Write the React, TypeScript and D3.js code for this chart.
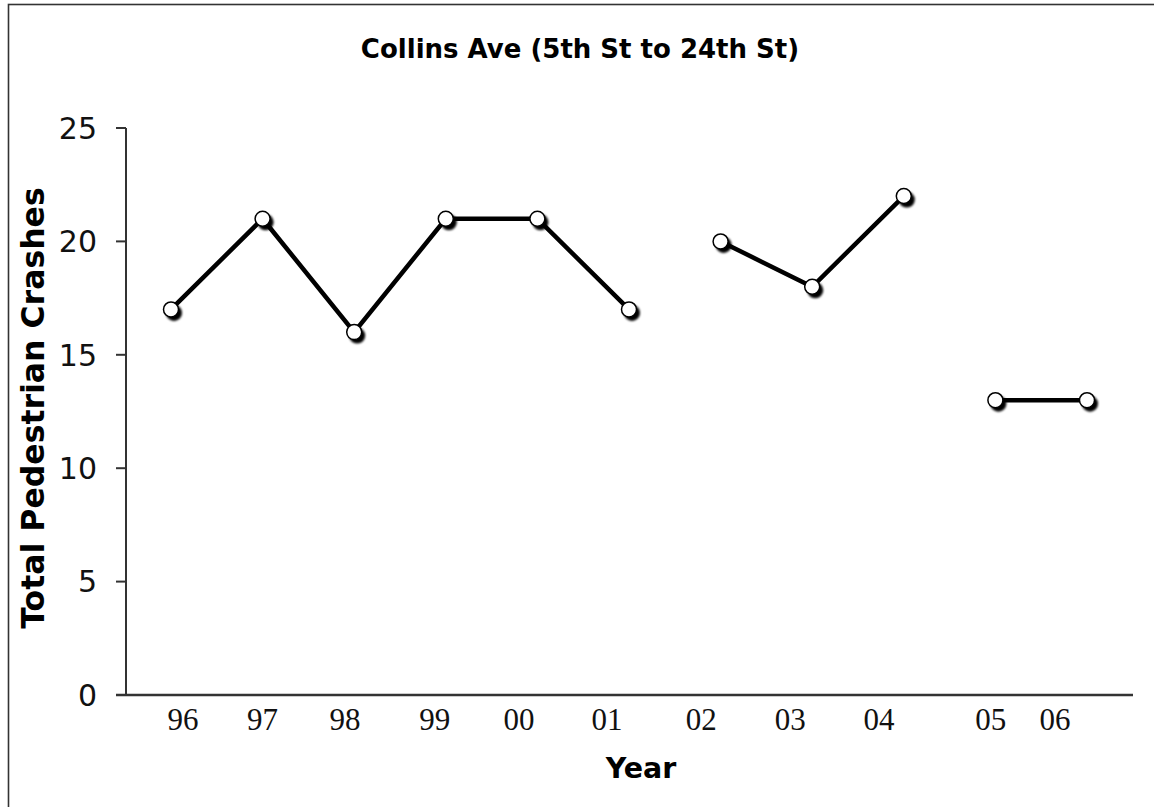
import React from "react";
import * as d3 from "d3";

const years = ["96", "97", "98", "99", "00", "01", "02", "03", "04", "05", "06"];
const crashes = [17, 21, 16, 21, 21, 17, 20, 18, 22, 13, 13];
// segment groups (indices connected by lines)
const segments = [
  [0, 1, 2, 3, 4, 5],
  [6, 7, 8],
  [9, 10],
];
// tick label positions in index units
const labelAt = [0.13, 1.0, 1.9, 2.88, 3.8, 4.76, 5.79, 6.76, 7.73, 8.95, 9.65];
const yTicks = [0, 5, 10, 15, 20, 25];

const W = 1154;
const H = 807;

export default function App() {
  const x = d3.scaleLinear().domain([0, 10]).range([171, 1087]);
  const y = d3.scaleLinear().domain([0, 25]).range([695, 128]);
  const line = d3
    .line<number>()
    .x((i) => x(i))
    .y((i) => y(crashes[i]));
  const sans = "Verdana, 'DejaVu Sans', sans-serif";
  return (
    <svg
      width={W}
      height={H}
      style={{ position: "absolute", left: 0, top: 0, background: "#fff" }}
    >
      <defs>
        <filter id="blur" x="-50%" y="-50%" width="200%" height="200%">
          <feGaussianBlur stdDeviation="1" />
        </filter>
      </defs>
      <rect x={8.5} y={4.5} width={W} height={H} fill="#fff" stroke="#333" strokeWidth={1.6} />
      <text x={580} y={58} textAnchor="middle" fontFamily={sans} fontWeight="bold" fontSize={26}>
        Collins Ave (5th St to 24th St)
      </text>
      {/* axes */}
      <line x1={126} x2={126} y1={y(25)} y2={y(0)} stroke="#333" strokeWidth={2} />
      <line x1={116} x2={1133} y1={y(0)} y2={y(0)} stroke="#333" strokeWidth={2.5} />
      {yTicks.map((t) => (
        <g key={t}>
          <line x1={116} x2={126} y1={y(t)} y2={y(t)} stroke="#333" strokeWidth={2} />
          <text
            x={97}
            y={y(t)}
            dy="0.36em"
            textAnchor="end"
            fontFamily={sans}
            fontSize={30}
            fill="#111"
          >
            {t}
          </text>
        </g>
      ))}
      {years.map((yr, i) => (
        <text
          key={yr}
          x={x(labelAt[i])}
          y={730}
          textAnchor="middle"
          fontFamily="'Liberation Serif', 'Times New Roman', serif"
          fontSize={31}
          fill="#111"
        >
          {yr}
        </text>
      ))}
      <text
        transform={`translate(44,408) rotate(-90)`}
        textAnchor="middle"
        fontFamily={sans}
        fontWeight="bold"
        fontSize={31.5}
      >
        Total Pedestrian Crashes
      </text>
      <text x={641} y={778} textAnchor="middle" fontFamily={sans} fontWeight="bold" fontSize={28.5}>
        Year
      </text>
      {/* lines */}
      {segments.map((s, k) => (
        <path key={k} d={line(s) || ""} fill="none" stroke="#000" strokeWidth={4.5} />
      ))}
      {/* markers */}
      {crashes.map((v, i) => (
        <g key={i}>
          <circle cx={x(i) + 3} cy={y(v) + 3.5} r={8} fill="#000" filter="url(#blur)" />
          <circle cx={x(i)} cy={y(v)} r={7.5} fill="#fff" stroke="#000" strokeWidth={1.5} />
        </g>
      ))}
    </svg>
  );
}
